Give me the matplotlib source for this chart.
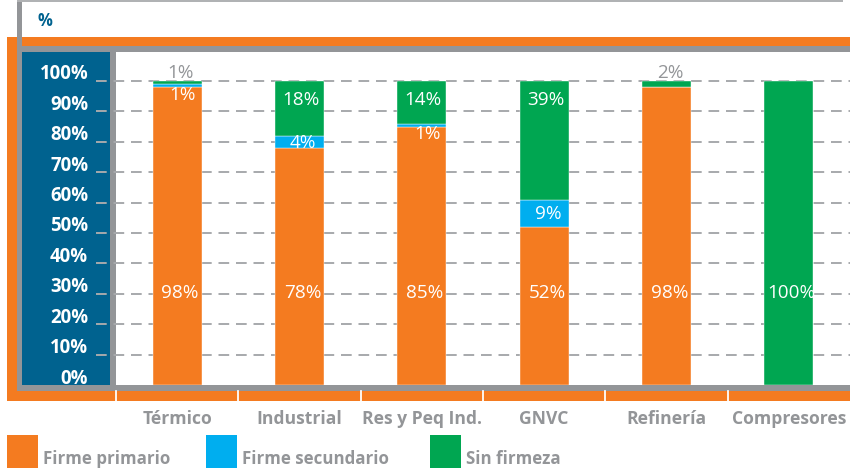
import matplotlib
matplotlib.use("Agg")
import matplotlib.pyplot as plt
from matplotlib.patches import Rectangle
from matplotlib.transforms import blended_transform_factory, ScaledTranslation
import numpy as np

# -----------------------------
# Data
# -----------------------------
categories = ["Térmico", "Industrial", "Res y Peq Ind.", "GNVC", "Refinería", "Compresores"]
firme_primario = [98, 78, 85, 52, 98, 0]
firme_secundario = [1, 4, 1, 9, 0, 0]
sin_firmeza = [1, 18, 14, 39, 2, 100]

main_labels = ["98%", "78%", "85%", "52%", "98%", "100%"]
sec_labels = ["1%", "4%", "1%", "9%", "", ""]
sin_labels = ["1%", "18%", "14%", "39%", "2%", ""]

y_ticks = [0, 10, 20, 30, 40, 50, 60, 70, 80, 90, 100]
legend_names = ["Firme primario", "Firme secundario", "Sin firmeza"]

# -----------------------------
# Style
# -----------------------------
ORANGE = "#F47B20"
BLUE = "#00AEEF"
GREEN = "#00A651"
NAVY = "#00628F"
GRAY = "#939598"
GRID = "#A7A9AC"

plt.rcParams["font.family"] = ["Open Sans", "DejaVu Sans"]

W, H = 850, 468
fig = plt.figure(figsize=(W / 100, H / 100), dpi=100)

# background / frame axes in pixel coordinates
bg = fig.add_axes([0, 0, 1, 1])
bg.set_xlim(0, W)
bg.set_ylim(H, 0)
bg.axis("off")

bg.add_patch(Rectangle((7, 36.5), W - 7, 364, color=ORANGE, lw=0))
bg.add_patch(Rectangle((17, 0), 5, 391, color=GRAY, lw=0))
bg.add_patch(Rectangle((17, 0), 826, 1.5, color="#B0B2B4", lw=0))
bg.add_patch(Rectangle((17, 46), W - 17, 6, color=GRAY, lw=0))
bg.add_patch(Rectangle((17, 385), W - 17, 6, color=GRAY, lw=0))
bg.add_patch(Rectangle((22, 52), 88, 333, color=NAVY, lw=0))
bg.add_patch(Rectangle((110, 46), 6, 345, color=GRAY, lw=0))

bg.text(38, 21, "%", color=NAVY, fontsize=12, fontweight="bold", va="center", ha="left")

# legend
leg_x = [7, 206, 430]
for x0, c, name in zip(leg_x, [ORANGE, BLUE, GREEN], legend_names):
    bg.add_patch(Rectangle((x0, 435), 31, 33, color=c, lw=0))
    bg.text(x0 + 36, 458.5, name, color=GRAY, fontsize=12.2, fontweight="bold",
            va="center", ha="left")

# -----------------------------
# Plot area
# -----------------------------
left, right, top, bottom = 116, 850, 52, 385
ax = fig.add_axes([left / W, (H - bottom) / H, (right - left) / W, (bottom - top) / H])
ax.set_xlim(-0.5, 5.5)
ax.set_ylim(0, (bottom - top) / 3.04)
for s in ax.spines.values():
    s.set_visible(False)

x = np.arange(len(categories))
prim = np.array(firme_primario)
sec = np.array(firme_secundario)
sin = np.array(sin_firmeza)

# gridlines (extend a bit into the blue panel)
for t in y_ticks[1:]:
    ax.plot([-0.66, 5.5], [t, t], color=GRID, lw=1.4, dashes=(5.5, 3.5),
            clip_on=False, zorder=1)

bw = 0.4
ax.bar(x, prim, bw, color=ORANGE, zorder=2, edgecolor="white", lw=0.3)
ax.bar(x, sec, bw, bottom=prim, color=BLUE, zorder=2, edgecolor="white", lw=0.3)
ax.bar(x, sin, bw, bottom=prim + sec, color=GREEN, zorder=2, edgecolor="white", lw=0.3)

# value labels (baseline placed)
fs = 13.6
for i in range(len(categories)):
    ax.text(x[i] + 0.025, 28.6, main_labels[i], color="white", fontsize=fs,
            ha="center", va="baseline", zorder=3)
    if sec_labels[i]:
        if sec[i] >= 4:
            ax.text(x[i] + 0.03, prim[i] + sec[i] / 2 - 2, sec_labels[i],
                    color="white", fontsize=fs, ha="center", va="baseline", zorder=3)
        else:
            ax.text(x[i] + 0.045, prim[i] - 4.2, sec_labels[i], color="white",
                    fontsize=fs, ha="center", va="baseline", zorder=3)
    if sin_labels[i]:
        if sin[i] >= 5:
            ax.text(x[i] + 0.01, 92.1, sin_labels[i], color="white", fontsize=fs,
                    ha="center", va="baseline", zorder=3)
        else:
            ax.text(x[i] + 0.028, 101.0, sin_labels[i], color=GRAY, fontsize=fs,
                    ha="center", va="baseline", zorder=3)

# axis ticks
ax.set_yticks(y_ticks)
ax.set_yticklabels([f"{t}%" for t in y_ticks], color="white", fontsize=13.4,
                   fontweight="bold")
ax.set_xticks(x)
ax.set_xticklabels(categories, color=GRAY, fontsize=12.6, fontweight="bold")
ax.tick_params(axis="y", length=0, pad=20)
ax.tick_params(axis="x", length=0, pad=18)

# y tick labels sit a little above their gridlines
shift = ScaledTranslation(0, 9 / 100, fig.dpi_scale_trans)
for lab in ax.get_yticklabels():
    lab.set_transform(lab.get_transform() + shift)

# white separators in bottom orange band
trans = blended_transform_factory(ax.transData, bg.transData)
for b in np.arange(-0.5, 5.5, 1.0):
    bg.plot([b, b], [391, 400.5], color="white", lw=1.3, transform=trans, clip_on=False)

fig.savefig("out.png", dpi=100)
